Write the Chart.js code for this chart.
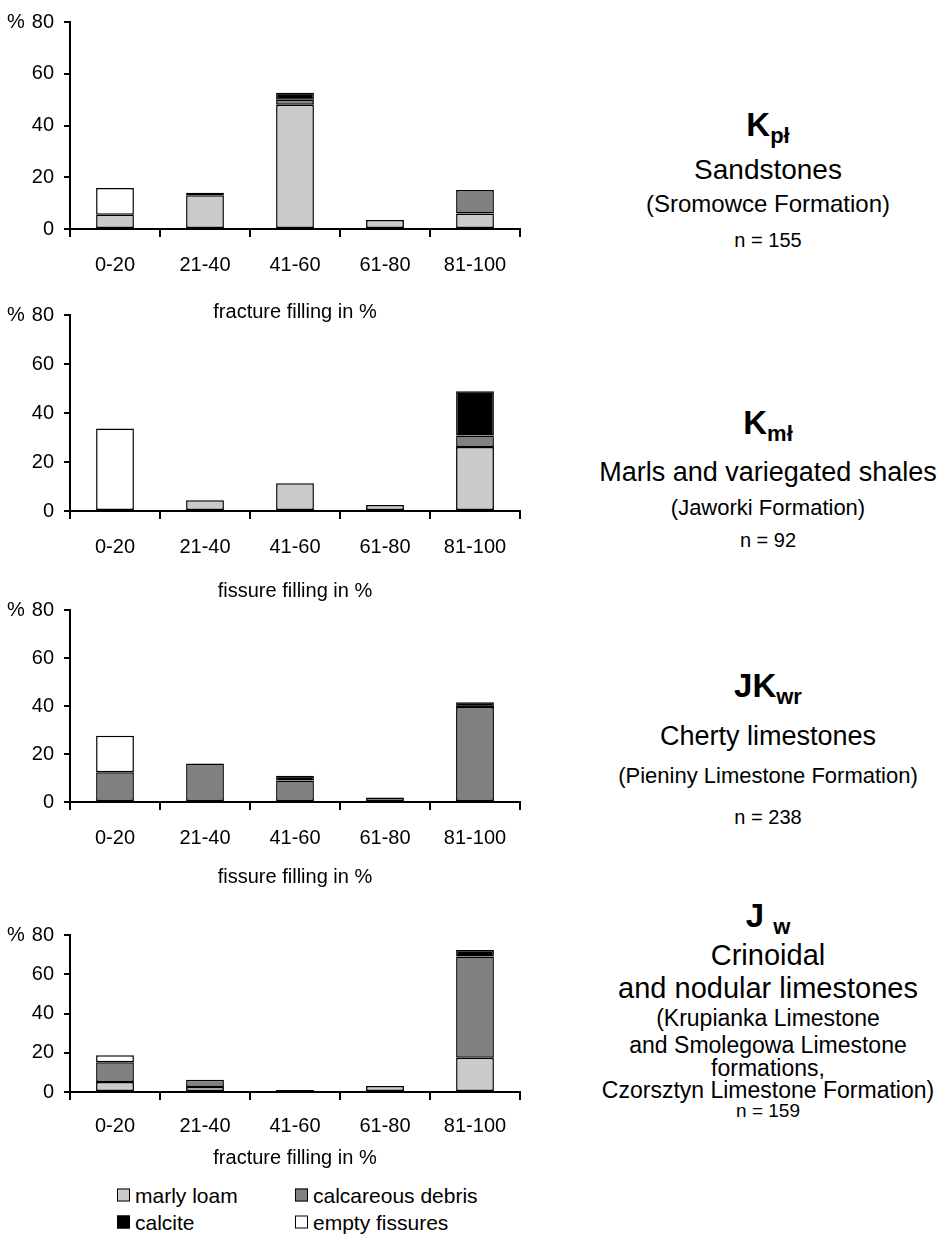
<!DOCTYPE html>
<html>
<head>
<meta charset="utf-8">
<script src="https://cdn.jsdelivr.net/npm/chart.js@4/dist/chart.umd.min.js"></script>
<style>
  body { margin: 0; background: #fff; font-family: "Liberation Sans", Arial, sans-serif; color: #000; }
  #page { position: relative; width: 950px; height: 1244px; overflow: hidden; }
  .box { position: absolute; left: 0; width: 560px; }
  .t { position: absolute; left: 768px; transform: translate(-50%, -50%); white-space: nowrap; line-height: 1; }
  .k { font-weight: bold; font-size: 33px; }
  .k sub { font-size: 22px; vertical-align: -7px; }
  .legend { position: absolute; font-size: 21px; line-height: 1; display: flex; align-items: center; transform: translateY(-50%); }
  .legend i { display: inline-block; width: 11px; height: 11px; border: 1.5px solid #000; margin-right: 5px; }
</style>
</head>
<body>
<div id="page">
  <div class="box" id="b0"><canvas id="c0"></canvas></div>
  <div class="box" id="b1"><canvas id="c1"></canvas></div>
  <div class="box" id="b2"><canvas id="c2"></canvas></div>
  <div class="box" id="b3"><canvas id="c3"></canvas></div>

  <div class="t k" style="top:127px">K<sub>pł</sub></div>
  <div class="t" style="top:170px;font-size:28px">Sandstones</div>
  <div class="t" style="top:204px;font-size:24px">(Sromowce Formation)</div>
  <div class="t" style="top:240px;font-size:20px">n = 155</div>

  <div class="t k" style="top:425px">K<sub>mł</sub></div>
  <div class="t" style="top:472px;font-size:27px">Marls and variegated shales</div>
  <div class="t" style="top:508px;font-size:22px">(Jaworki Formation)</div>
  <div class="t" style="top:540px;font-size:20px">n = 92</div>

  <div class="t k" style="top:688px">JK<sub>wr</sub></div>
  <div class="t" style="top:736px;font-size:27px">Cherty limestones</div>
  <div class="t" style="top:776px;font-size:22px">(Pieniny Limestone Formation)</div>
  <div class="t" style="top:817px;font-size:20px">n = 238</div>

  <div class="t k" style="top:918px">J <sub>w</sub></div>
  <div class="t" style="top:955px;font-size:29px">Crinoidal</div>
  <div class="t" style="top:988px;font-size:29px">and nodular limestones</div>
  <div class="t" style="top:1018px;font-size:23px">(Krupianka Limestone</div>
  <div class="t" style="top:1045px;font-size:23px">and Smolegowa Limestone</div>
  <div class="t" style="top:1068px;font-size:23px">formations,</div>
  <div class="t" style="top:1090px;font-size:23px">Czorsztyn Limestone Formation)</div>
  <div class="t" style="top:1110px;font-size:19px">n = 159</div>

  <div id="legend"></div>
</div>
<script>
var labels = ["0-20", "21-40", "41-60", "61-80", "81-100"];
var seriesNames = ["marly loam", "calcareous debris", "calcite", "empty fissures"];
var seriesColors = ["#cbcbcb", "#808080", "#000000", "#ffffff"];
var yTicks = [0, 20, 40, 60, 80];

// Kpł - sandstones
var kplMarly = [5.5, 13, 48, 3.5, 6];
var kplDebris = [null, null, 2, null, 9.1];
var kplCalcite = [null, 1, 2.7, null, null];
var kplEmpty = [10.3, null, null, null, null];

// Kmł - marls and variegated shales
var kmlMarly = [null, 4.4, 11.3, 2.4, 26.1];
var kmlDebris = [null, null, null, null, 4.7];
var kmlCalcite = [null, null, null, null, 18.1];
var kmlEmpty = [33.7, null, null, null, null];

// JKwr - cherty limestones
var jkwrMarly = [null, null, null, null, null];
var jkwrDebris = [12.4, 16, 9, 1.9, 39.6];
var jkwrCalcite = [null, null, 1.9, null, 2];
var jkwrEmpty = [15.2, null, null, null, null];

// Jw - crinoidal and nodular limestones
var jwMarly = [5.1, 2.6, null, 3, 17.5];
var jwDebris = [10, 3.7, 1, null, 51.5];
var jwCalcite = [null, null, null, null, 3.3];
var jwEmpty = [3.6, null, null, null, null];

var panels = [
  { id: 0, top: 18, bottom: 229, tickPad: 16, titleY: 312, title: "fracture filling in %", data: [kplMarly, kplDebris, kplCalcite, kplEmpty] },
  { id: 1, top: 311, bottom: 511, tickPad: 16, titleY: 591, title: "fissure filling in %", data: [kmlMarly, kmlDebris, kmlCalcite, kmlEmpty] },
  { id: 2, top: 606, bottom: 802, tickPad: 16, titleY: 877, title: "fissure filling in %", data: [jkwrMarly, jkwrDebris, jkwrCalcite, jkwrEmpty] },
  { id: 3, top: 931, bottom: 1092, tickPad: 14, titleY: 1158, title: "fracture filling in %", data: [jwMarly, jwDebris, jwCalcite, jwEmpty] }
];

var FONT = "'Liberation Sans', Arial, sans-serif";
var padTop = 18;
var xTickLen = 8;
var tickLH = 24;
var titleLH = 24;

// little "%" in front of the top tick
var percentPlugin = {
  id: "percentSign",
  afterDraw: function (chart) {
    var y = chart.scales.y.getPixelForValue(80);
    var ctx = chart.ctx;
    ctx.save();
    ctx.font = "20px " + FONT;
    ctx.fillStyle = "#000";
    ctx.textAlign = "center";
    ctx.textBaseline = "middle";
    ctx.fillText("%", 16, y);
    ctx.restore();
  }
};

panels.forEach(function (p) {
  var titlePadTop = p.titleY - p.bottom - (xTickLen + tickLH + 2 * p.tickPad + titleLH / 2);
  var axisH = xTickLen + tickLH + 2 * p.tickPad + titleLH + titlePadTop;
  var h = padTop + (p.bottom - p.top) + axisH;
  var box = document.getElementById("b" + p.id);
  box.style.top = (p.top - padTop) + "px";
  box.style.height = h + "px";

  var datasets = seriesNames.map(function (name, i) {
    return {
      label: name,
      data: p.data[i],
      backgroundColor: seriesColors[i],
      borderColor: "#000",
      // no outline for empty segments
      borderWidth: function (c) { return c.raw == null ? 0 : 1.5; },
      borderSkipped: false,
      barPercentage: 0.42,
      categoryPercentage: 1
    };
  });

  new Chart(document.getElementById("c" + p.id), {
    type: "bar",
    data: { labels: labels, datasets: datasets },
    options: {
      responsive: true,
      maintainAspectRatio: false,
      animation: false,
      layout: { padding: { top: padTop, left: 0, right: 40, bottom: 0 } },
      plugins: { legend: { display: false }, tooltip: { enabled: false } },
      scales: {
        x: {
          stacked: true,
          grid: { offset: true, drawOnChartArea: false, drawTicks: true, tickLength: xTickLen, color: "#000", lineWidth: 2 },
          border: { color: "#000", width: 2 },
          ticks: { color: "#000", padding: p.tickPad, font: { family: FONT, size: 20 } },
          title: { display: true, text: p.title, color: "#000", font: { family: FONT, size: 20, lineHeight: 1.2 }, padding: { top: titlePadTop, bottom: 0 } }
        },
        y: {
          stacked: true,
          min: 0,
          max: 80,
          afterBuildTicks: function (s) { s.ticks = yTicks.map(function (v) { return { value: v }; }); },
          afterFit: function (s) { s.width = 70; },
          grid: { drawOnChartArea: false, drawTicks: true, tickLength: 6, color: "#000", lineWidth: 2 },
          border: { color: "#000", width: 2 },
          ticks: { color: "#000", padding: 10, font: { family: FONT, size: 20 } }
        }
      }
    },
    plugins: [percentPlugin]
  });
});

// legend, two columns
var legendPos = [[117, 1195], [295, 1195], [117, 1222], [295, 1222]];
var lg = document.getElementById("legend");
seriesNames.forEach(function (name, i) {
  var d = document.createElement("div");
  d.className = "legend";
  d.style.left = legendPos[i][0] + "px";
  d.style.top = legendPos[i][1] + "px";
  d.innerHTML = '<i style="background:' + seriesColors[i] + '"></i>' + name;
  lg.appendChild(d);
});
</script>
</body>
</html>
